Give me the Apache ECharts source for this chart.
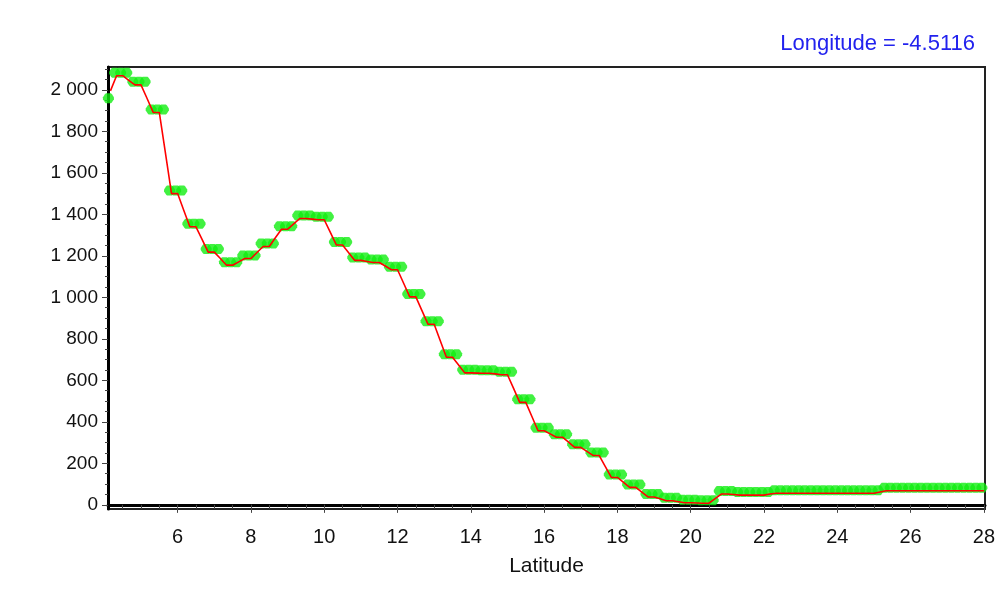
<!DOCTYPE html>
<html>
<head>
<meta charset="utf-8">
<script src="https://cdn.jsdelivr.net/npm/echarts@6/dist/echarts.min.js"></script>
<style>
  html, body { margin: 0; padding: 0; background: #fff; }
  #chart { width: 1001px; height: 596px; }
</style>
</head>
<body>
<div id="chart"></div>
<script>
// sampling grid along the profile: every 1/6 degree from 4.1667 to 28
const latFirst = 4 + 1 / 6;
const latStep = 1 / 6;
const latCount = 144;

// gridded values (green markers), one per sample
const greenVals = [
  1945,
  2068, 2068, 2068, 2024, 2024, 2024, 1891, 1891, 1891, 1500, 1500, 1500,
  1340, 1340, 1340, 1218, 1218, 1218, 1155, 1155, 1155, 1187, 1187, 1187,
  1245, 1245, 1245, 1328, 1328, 1328, 1380, 1380, 1380, 1374, 1374, 1374,
  1252, 1252, 1252, 1178, 1178, 1178, 1168, 1168, 1168, 1133, 1133, 1133,
  1002, 1002, 1002, 870, 870, 870, 711, 711, 711, 636, 636, 636,
  634, 634, 634, 627, 627, 627, 494, 494, 494, 357, 357, 357,
  326, 326, 326, 277, 277, 277, 238, 238, 238, 132, 132, 132,
  84, 84, 84, 38, 38, 38, 20, 20, 20, 10, 10, 10,
  8, 8, 8, 52, 52, 52, 47, 47, 47, 47, 47, 47,
  56, 56, 56, 56, 56, 56, 56, 56, 56, 56, 56, 56, 56, 56, 56, 56, 56, 56,
  68, 68, 68, 68, 68, 68, 68, 68, 68, 68, 68, 68, 68, 68, 68, 68, 68
];

// profile line (red), one per sample
const redVals = [
  1995,
  2068, 2068, 2046, 2024, 2024, 1958, 1891, 1891, 1696, 1500, 1500, 1420,
  1340, 1340, 1279, 1218, 1218, 1187, 1155, 1155, 1171, 1187, 1187, 1216,
  1245, 1245, 1287, 1328, 1328, 1354, 1380, 1380, 1377, 1374, 1374, 1313,
  1252, 1252, 1215, 1178, 1178, 1173, 1168, 1168, 1151, 1133, 1133, 1068,
  1002, 1002, 936, 870, 870, 791, 711, 711, 674, 636, 636, 635,
  634, 634, 631, 627, 627, 561, 494, 494, 426, 357, 357, 342,
  326, 326, 302, 277, 277, 258, 238, 238, 185, 132, 132, 108,
  84, 84, 61, 38, 38, 29, 20, 20, 15, 10, 10, 9,
  8, 8, 30, 52, 52, 50, 47, 47, 47, 47, 47, 52,
  56, 56, 56, 56, 56, 56, 56, 56, 56, 56, 56, 56, 56, 56, 56, 56, 56, 62,
  68, 68, 68, 68, 68, 68, 68, 68, 68, 68, 68, 68, 68, 68, 68, 68, 68
];

const xLabels = [6, 8, 10, 12, 14, 16, 18, 20, 22, 24, 26, 28];
const yLabels = [0, 200, 400, 600, 800, 1000, 1200, 1400, 1600, 1800, 2000];

const xMinor = [];
for (let v = 4.5; v <= 28; v += 0.5) xMinor.push(v);
const yMinor = [];
for (let v = 0; v <= 2100; v += 50) yMinor.push(v);

const lats = [];
for (let i = 0; i < latCount; i++) lats.push(latFirst + i * latStep);

const greenData = lats.map((x, i) => [x, greenVals[i]]);
const redData = lats.map((x, i) => [x, redVals[i]]);

const FONT = '"Liberation Sans", Arial, sans-serif';
const xMin = 4.1, xMax = 28.03, yMin = -20, yMax = 2110;

function fmt(v) {
  if (v >= 1000) return Math.floor(v / 1000) + ' ' + String(v % 1000).padStart(3, '0');
  return String(v);
}

const chart = echarts.init(document.getElementById('chart'), null, { renderer: 'canvas' });

chart.setOption({
  animation: false,
  backgroundColor: '#fff',
  title: {
    text: 'Longitude = -4.5116',
    right: 26,
    top: 33,
    padding: 0,
    textStyle: { color: '#2222ee', fontSize: 22, fontWeight: 'normal', fontFamily: FONT }
  },
  grid: {
    left: 108, right: 16, top: 67, bottom: 87,
    show: true, borderColor: '#222', borderWidth: 2
  },
  xAxis: [{
    type: 'value', min: xMin, max: xMax,
    name: 'Latitude', nameLocation: 'middle', nameGap: 47,
    nameTextStyle: { color: '#111', fontSize: 21, fontFamily: FONT },
    axisLine: { show: true, lineStyle: { color: '#000', width: 3 } },
    axisTick: { show: true, customValues: xLabels, length: 8, lineStyle: { color: '#444' } },
    axisLabel: { customValues: xLabels, margin: 18, color: '#111', fontSize: 20, fontFamily: FONT },
    splitLine: { show: false }
  }, {
    type: 'value', min: xMin, max: xMax, position: 'bottom',
    axisLine: { show: false },
    axisTick: { show: true, customValues: xMinor, length: 4, lineStyle: { color: '#444' } },
    axisLabel: { show: false },
    splitLine: { show: false }
  }],
  yAxis: [{
    type: 'value', min: yMin, max: yMax,
    axisLine: { show: true, lineStyle: { color: '#000', width: 3 } },
    axisTick: { show: true, customValues: yLabels, length: 6, lineStyle: { color: '#444' } },
    axisLabel: { customValues: yLabels, formatter: fmt, margin: 10, color: '#111', fontSize: 19, fontFamily: FONT },
    splitLine: { show: false }
  }, {
    type: 'value', min: yMin, max: yMax, position: 'left',
    axisLine: { show: false },
    axisTick: { show: true, customValues: yMinor, length: 3, lineStyle: { color: '#444' } },
    axisLabel: { show: false },
    splitLine: { show: false }
  }],
  series: [{
    name: 'grid',
    type: 'scatter',
    xAxisIndex: 0, yAxisIndex: 0,
    data: greenData,
    symbol: 'path://M3,0 L8,0 L9,1 L11,4 L11,6 L9,9 L8,10 L3,10 L2,9 L0,6 L0,4 L2,1 Z',
    symbolSize: [11, 10],
    symbolOffset: [-2, -3],
    itemStyle: { color: '#11ee11' },
    clip: true,
    z: 2
  }, {
    name: 'profile',
    type: 'line',
    xAxisIndex: 0, yAxisIndex: 0,
    data: redData,
    showSymbol: false,
    lineStyle: { color: '#ff0000', width: 1.6 },
    clip: true,
    z: 3
  }]
});
</script>
</body>
</html>
